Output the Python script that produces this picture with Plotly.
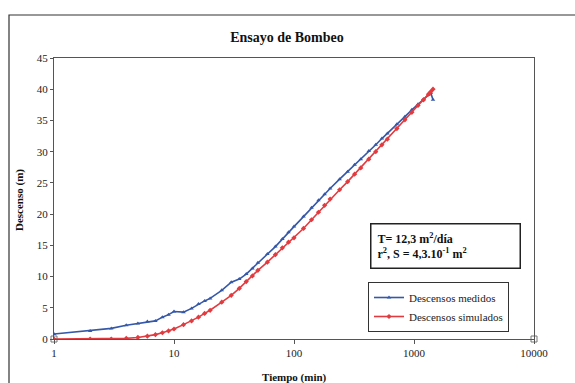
import plotly.graph_objects as go

# Data
tiempo = [1, 2, 3, 4, 5, 6, 7, 8, 9, 10, 12, 14, 16, 18, 20, 25, 30, 35, 40, 45, 50,
          60, 70, 80, 90, 100, 120, 140, 160, 180, 200, 240, 280, 320, 360, 420, 480,
          540, 600, 720, 840, 960, 1080, 1200, 1320, 1380, 1440]
medidos = [0.8, 1.3, 1.7, 2.2, 2.5, 2.8, 2.9, 3.5, 3.9, 4.4, 4.3, 4.9, 5.6, 6.1, 6.5,
           7.8, 9.1, 9.6, 10.4, 11.3, 12.2, 13.6, 14.8, 16.0, 17.1, 18.0, 19.6, 21.0,
           22.2, 23.2, 24.1, 25.6, 26.8, 27.9, 28.8, 30.1, 31.1, 32.1, 32.9, 34.4,
           35.6, 36.7, 37.6, 38.4, 39.1, 39.4, 38.3]
simulados = [0.0, 0.0, 0.0, 0.1, 0.25, 0.45, 0.7, 1.0, 1.3, 1.6, 2.3, 2.9, 3.5, 4.1,
             4.6, 5.9, 7.0, 8.1, 9.2, 10.1, 11.0, 12.3, 13.5, 14.6, 15.5, 16.2, 17.7,
             19.1, 20.3, 21.4, 22.4, 23.9, 25.2, 26.4, 27.4, 28.8, 30.0, 31.1, 32.0,
             33.7, 35.1, 36.3, 37.4, 38.3, 39.2, 39.6, 40.0]
esquinas_x = [1, 10000]
esquinas_y = [0, 0]

x_ticks = [1, 10, 100, 1000, 10000]
x_tick_labels = ["1", "10", "100", "1000", "10000"]

FONT = "Liberation Serif, Times New Roman, serif"
BLUE = "#3558a8"
RED = "#e23b3f"

fig = go.Figure()
fig.add_trace(go.Scatter(
    x=tiempo, y=medidos, mode="lines+markers", name="Descensos medidos",
    line=dict(color=BLUE, width=1.6),
    marker=dict(symbol="triangle-up", size=4, color=BLUE),
))
fig.add_trace(go.Scatter(
    x=tiempo, y=simulados, mode="lines+markers", name="Descensos simulados",
    line=dict(color=RED, width=1.6),
    marker=dict(symbol="diamond", size=4, color=RED),
))
fig.add_trace(go.Scatter(
    x=esquinas_x, y=esquinas_y, mode="markers", showlegend=False,
    marker=dict(symbol="square-open", size=6, color="#777777"),
    cliponaxis=False, hoverinfo="skip",
))

L, R, T, B = 54, 41, 58, 44
W, H = 575, 383
pw = W - L - R
ph = H - T - B

fig.update_layout(
    width=W, height=H,
    margin=dict(l=L, r=R, t=T, b=B, autoexpand=False),
    paper_bgcolor="white", plot_bgcolor="white",
    font=dict(family=FONT, size=11, color="#222222"),
    title=dict(text="<b>Ensayo de Bombeo</b>", x=(287 / W), xanchor="center",
               y=1 - 37 / H, yanchor="middle", font=dict(size=14, family=FONT, color="#111111")),
    xaxis=dict(
        type="log", range=[0, 4], tickvals=x_ticks, ticktext=x_tick_labels,
        showgrid=False, zeroline=False, showline=True, linecolor="#555555",
        linewidth=1, mirror=True, ticks="outside", ticklen=4, tickcolor="#555555",
        tickfont=dict(size=11), automargin=False,
    ),
    yaxis=dict(
        range=[0, 45], dtick=5, showgrid=False, zeroline=False, showline=True,
        linecolor="#555555", linewidth=1, mirror=True, ticks="outside", ticklen=3,
        tickcolor="#555555", tickfont=dict(size=11), automargin=False,
    ),
    legend=dict(
        x=(368 - L) / pw, y=(H - B - 282) / ph, xanchor="left", yanchor="top",
        bgcolor="white", bordercolor="#333333", borderwidth=1,
        font=dict(size=11, family=FONT), tracegroupgap=0, itemwidth=30,
    ),
    showlegend=True,
)

# axis titles
fig.add_annotation(
    xref="paper", yref="paper", x=(294 - L) / pw, y=(H - B - 377) / ph,
    xanchor="center", yanchor="middle", showarrow=False,
    text="<b>Tiempo (min)</b>", font=dict(size=11, family=FONT, color="#111111"),
)
fig.add_annotation(
    xref="paper", yref="paper", x=(20 - L) / pw, y=(H - B - 200) / ph,
    xanchor="center", yanchor="middle", showarrow=False, textangle=-90,
    text="<b>Descenso (m)</b>", font=dict(size=11, family=FONT, color="#111111"),
)

fig.add_annotation(
    xref="paper", yref="paper",
    x=(370 - L) / pw, y=(H - B - 223) / ph, xanchor="left", yanchor="top",
    text="<b>T= 12,3 m<sup>2</sup>/día</b><br><b>r<sup>2</sup>, S = 4,3.10<sup>-1</sup> m<sup>2</sup></b>",
    showarrow=False, align="left", bordercolor="#222222", borderwidth=1.5,
    borderpad=6, bgcolor="white", font=dict(size=12, family=FONT, color="#111111"),
    width=136,
)

# outer chart-area frame
fig.add_shape(type="rect", xref="paper", yref="paper",
              x0=(9 - L) / pw, x1=(W + 5 - L) / pw,
              y0=(H - B - (H + 5)) / ph, y1=(H - B - 15) / ph,
              line=dict(color="#333333", width=1.2), layer="below")

fig.write_html("out.html")
